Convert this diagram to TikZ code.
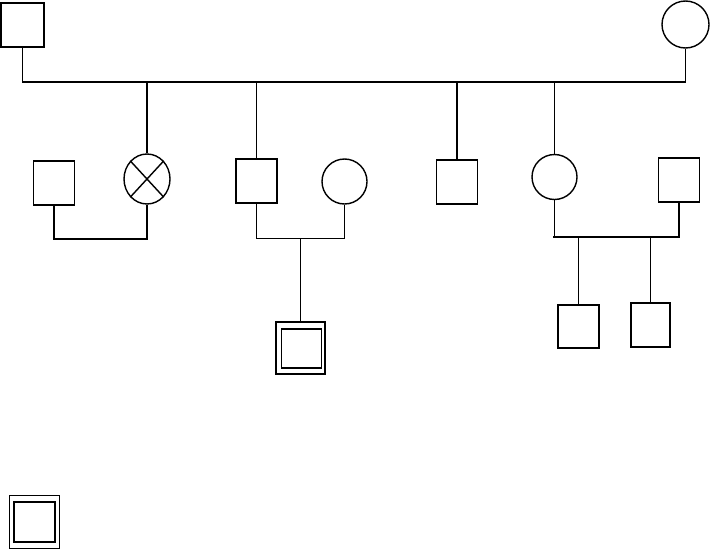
\documentclass[tikz,border=0pt]{standalone}
\usepackage{tikz}
\usetikzlibrary{positioning, shapes.geometric}
\tikzset{
male/.style = { rectangle, draw = black, fill = white, line width = 0.8pt, inner sep = 0pt, minimum width = 8.2mm, minimum height = 8.8mm },
female/.style = { ellipse, draw = black, fill = white, line width = 0.8pt, inner sep = 0pt, minimum width = 9mm, minimum height = 9mm },
outer box/.style = { rectangle, draw = black, line width = 0.8pt, inner sep = 0pt, minimum width = 9.8mm, minimum height = 10.4mm },
inner box/.style = { rectangle, draw = black, line width = 0.8pt, inner sep = 0pt, minimum width = 8mm, minimum height = 7.8mm },
link/.style = { draw = black, line width = 0.8pt }
}

\begin{document}
\begin{tikzpicture}[x = 0.2mm, y = -0.2mm]
      \useasboundingbox (0, 0) rectangle (710, 549);
      % grandparents
      \node[male, minimum width = 8.6mm]   (gf) at (22.5, 25) {};
      \node[female, minimum size = 9.4mm]  (gm) at (685.5, 24.5) {};
      % second generation
      \node[male]   (sp1) at (54, 183) {};
      \node[female, minimum width = 9.2mm, minimum height = 10mm] (dx) at (147, 179) {};
      \node[male]   (s2)  at (256.5, 181) {};
      \node[female] (w2)  at (344.5, 181.5) {};
      \node[male]   (s3)  at (457, 182) {};
      \node[female] (d4)  at (554.5, 177) {};
      \node[male]   (sp4) at (679, 180) {};
      % third generation
      \node[outer box] (pb)  at (300.5, 348) {};
      \node[inner box] (pbi) at (301.5, 348.5) {};
      \node[male, minimum height = 8.6mm] (c1) at (578.5, 326.5) {};
      \node[male, minimum width = 7.8mm]  (c2) at (650.5, 325) {};
      % legend
      \node[outer box, minimum width = 10mm, minimum height = 10.6mm] (lg)  at (34.5, 522) {};
      \node[inner box, minimum width = 8.2mm, minimum height = 8mm]   (lgi) at (34.3, 522) {};

      \coordinate (bar) at (22, 82);
      \coordinate (m1) at (54, 239);
      \coordinate (m2) at (256.5, 238.5);
      \coordinate (m3) at (553, 237);

      \draw[link] (dx.north west) -- (dx.south east);
      \draw[link] (dx.north east) -- (dx.south west);

      \draw[link] (gf.south) |- (bar) -| (gm.south);
      \draw[link] (dx.north) -- (dx.north |- bar);
      \draw[link] (s2.north) -- (s2.north |- bar);
      \draw[link] (s3.north) -- (s3.north |- bar);
      \draw[link] (d4.north) -- (d4.north |- bar);

      \draw[link] (sp1.south) |- (m1) -| (dx.south);
      \draw[link] (s2.south) |- (m2) -| (w2.south);
      \draw[link] (pb.north) -- (pb.north |- m2);
      \draw[link] (d4.south) |- (m3) -| (sp4.south);
      \draw[link] (c1.north) -- (c1.north |- m3);
      \draw[link] (c2.north) -- (c2.north |- m3);
\end{tikzpicture}
\end{document}
